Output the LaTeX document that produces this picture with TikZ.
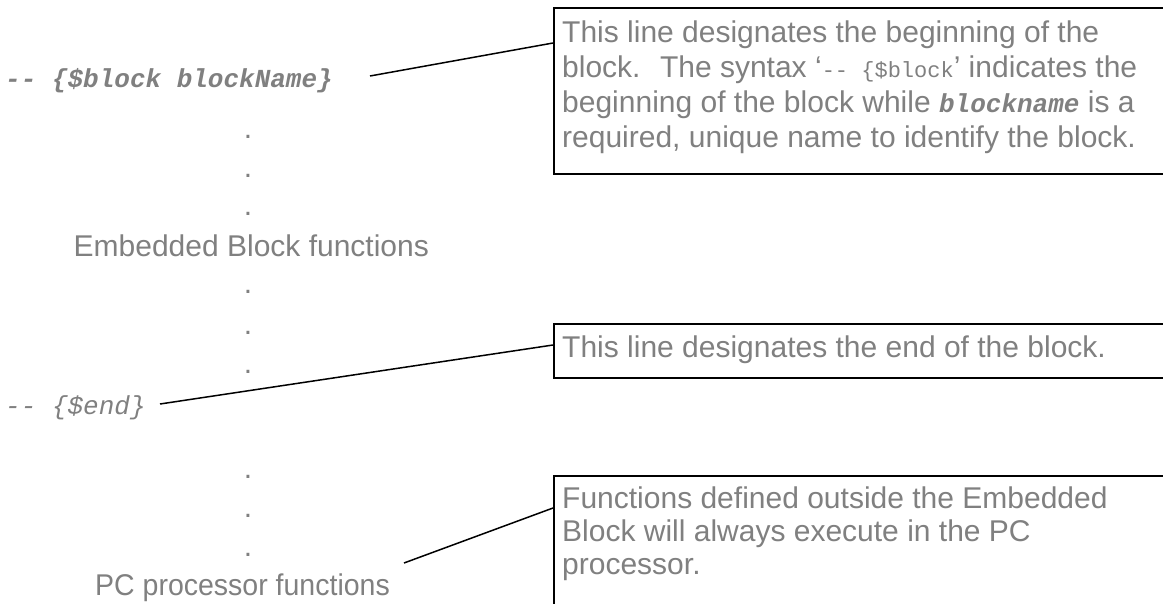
\documentclass[tikz,border=0pt]{standalone}
\usepackage{graphicx}
\usepackage{fontspec}
\setmainfont{Liberation Sans}
\newfontfamily\monofont{Liberation Mono}
\definecolor{txtgray}{HTML}{808080}
\begin{document}
\begin{tikzpicture}[x=1pt,y=-1pt,
  boxframe/.style={draw=black, line width=2pt, anchor=north west, inner sep=0pt, minimum width=700pt},
  desc/.style={anchor=base west, inner sep=0pt, text=txtgray, font=\fontsize{30}{35}\selectfont},
  codebi/.style={anchor=base west, inner sep=0pt, text=txtgray, font=\fontsize{26}{30}\monofont\bfseries\itshape},
  codei/.style={anchor=base west, inner sep=0pt, text=txtgray, font=\fontsize{26}{30}\monofont\itshape},
  label/.style={anchor=base west, inner sep=0pt, text=txtgray, font=\fontsize{30}{35}\selectfont},
  dotmark/.style={anchor=base, inner sep=0pt, text=txtgray, font=\fontsize{30}{35}\selectfont},
  conn/.style={draw=black, line width=1.5pt}]
\useasboundingbox (0,0) rectangle (1163,603);
\clip (0,0) rectangle (1163,603);
\fill[white] (0,0) rectangle (1163,603);

% left column
\node[codebi] (blockstart) at (5,87) {-\kern0pt- \{\$block blockName\}};
\node[dotmark] (d1) at (248,138.5) {.};
\node[dotmark] (d2) at (248,177.5) {.};
\node[dotmark] (d3) at (248,215.5) {.};
\node[label] (embfun) at (73.5,256) {Embedded Block functions};
\node[dotmark] (d4) at (248,293.5) {.};
\node[dotmark] (d5) at (248,334.5) {.};
\node[dotmark] (d6) at (248,373.5) {.};
\node[codei] (blockend) at (5,414) {-\kern0pt- \{\$end\}};
\node[dotmark] (d7) at (248,478.5) {.};
\node[dotmark] (d8) at (248,517.5) {.};
\node[dotmark] (d9) at (248,556.5) {.};
\node[label] (pcfun) at (95,595) {\scalebox{0.95}[1]{PC processor functions}};

% boxes
\node[boxframe, minimum height=166pt] (topbox) at (553,7) {};
\node[boxframe, minimum height=54pt] (midbox) at (553,323) {};
\node[boxframe, minimum height=200pt] (botbox) at (553,475) {};

% box texts
\node[desc] (ta) at (562,42) {This line designates the beginning of the};
\node[desc] (tb) at (562,77) {block.~ The syntax `{\fontsize{22}{26}\monofont -\kern0pt- \{\$block}' indicates the};
\node[desc] (tc) at (562,112) {beginning of the block while {\fontsize{26}{30}\monofont\bfseries\itshape blockname} is a};
\node[desc] (td) at (562,147) {required, unique name to identify the block.};
\node[desc] (ma) at (562,357) {This line designates the end of the block.};
\node[desc] (ba) at (562,508) {Functions defined outside the Embedded};
\node[desc] (bb) at (562,541) {Block will always execute in the PC};
\node[desc] (bc) at (562,574) {processor.};

% connectors
\coordinate (s1) at (370,76);
\coordinate (e1) at (553,43);
\coordinate (s2) at (160,404);
\coordinate (e2) at (553,345);
\coordinate (s3) at (404,563);
\coordinate (e3) at (553,508);
\draw[conn] (s1) -- (e1);
\draw[conn] (s2) -- (e2);
\draw[conn] (s3) -- (e3);
\end{tikzpicture}
\end{document}
